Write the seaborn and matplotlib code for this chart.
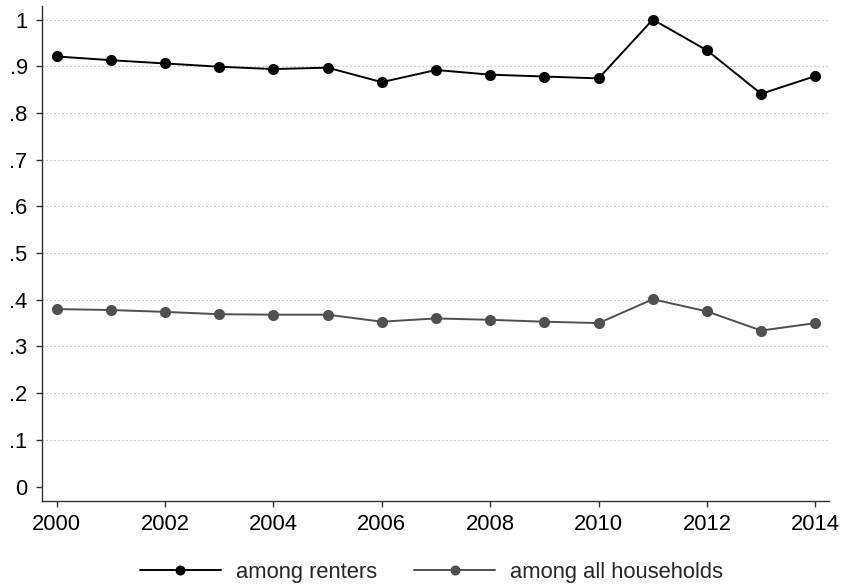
import numpy as np
import pandas as pd
import matplotlib
matplotlib.use("Agg")
import matplotlib.pyplot as plt
from matplotlib.lines import Line2D
import seaborn as sns

years = list(range(2000, 2015))
renters = [0.921, 0.913, 0.906, 0.899, 0.894, 0.897, 0.866, 0.892,
           0.882, 0.878, 0.874, 1.000, 0.934, 0.841, 0.879]
all_households = [0.380, 0.378, 0.374, 0.369, 0.368, 0.368, 0.353, 0.360,
                  0.357, 0.353, 0.350, 0.401, 0.375, 0.334, 0.350]
series_names = ["among renters", "among all households"]
y_ticks = [0, 0.1, 0.2, 0.3, 0.4, 0.5, 0.6, 0.7, 0.8, 0.9, 1.0]
y_tick_labels = ["0", ".1", ".2", ".3", ".4", ".5", ".6", ".7", ".8", ".9", "1"]
x_ticks = list(range(2000, 2015, 2))

df = pd.DataFrame({
    "year": years * 2,
    "share": renters + all_households,
    "group": [series_names[0]] * len(years) + [series_names[1]] * len(years),
})

sns.set_theme(style="ticks")
plt.rcParams["font.family"] = ["Liberation Sans", "DejaVu Sans"]

fig = plt.figure(figsize=(8.41, 5.84), dpi=100)
ax = fig.add_axes([0.0499, 0.1421, 0.9358, 0.8476])

colors = ["#000000", "#505050"]
palette = dict(zip(series_names, colors))
sns.lineplot(data=df, x="year", y="share", hue="group", palette=palette,
             marker="o", markersize=8, markeredgewidth=0, linewidth=1.4,
             ax=ax, legend=False, zorder=3)

# dotted horizontal gridlines (none at the zero line)
for t in y_ticks[1:]:
    ax.axhline(t, color="#a8a8a8", linewidth=0.8, linestyle=(0, (1, 2.6)), zorder=1)

ax.set_xlim(1999.73, 2014.25)
ax.set_ylim(-0.031, 1.029)
ax.set_yticks(y_ticks)
ax.set_yticklabels(y_tick_labels)
ax.set_xticks(x_ticks)
ax.set_xlabel("")
ax.set_ylabel("")
ax.tick_params(axis="both", direction="out", length=4.3, width=1, color="#333333",
               labelsize=15.8, labelcolor="black")
ax.tick_params(axis="x", pad=5)
ax.tick_params(axis="y", pad=6)
for side in ["top", "right"]:
    ax.spines[side].set_visible(False)
for side in ["left", "bottom"]:
    ax.spines[side].set_color("#333333")
    ax.spines[side].set_linewidth(1.0)

handles = [Line2D([], [], color=c, lw=1.4, marker="o", markersize=7.2, markeredgewidth=0)
           for c in colors]
fig.legend(handles, series_names, loc="center", bbox_to_anchor=(0.513, 0.0205),
           ncol=2, frameon=False, fontsize=15.8, handlelength=3.7,
           columnspacing=1.7, handletextpad=0.68)

fig.savefig("out.png", dpi=100)
